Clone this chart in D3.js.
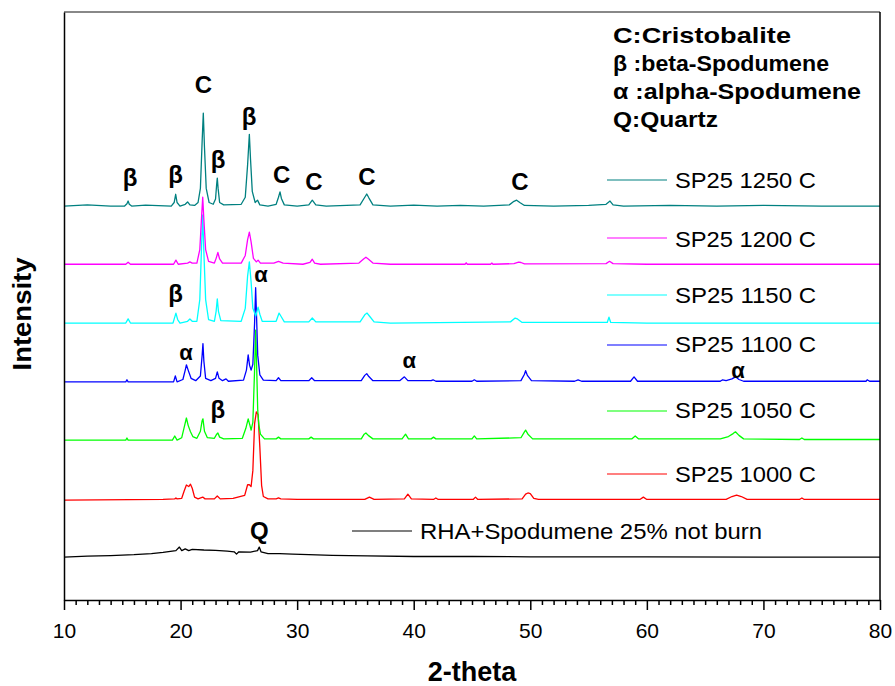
<!DOCTYPE html>
<html>
<head>
<meta charset="utf-8">
<script src="https://cdn.jsdelivr.net/npm/d3@7"></script>
<style>
  html, body { margin: 0; padding: 0; background: #fff; }
  svg { display: block; }
  text { font-family: "Liberation Sans", Arial, sans-serif; }
</style>
</head>
<body>
<svg id="chart" width="895" height="686"></svg>
<script>
// XRD patterns of RHA + 25% spodumene fired at different temperatures.
// Each pattern: [2-theta (deg), intensity (counts above its own baseline)].
const seriesNames = [
  "RHA+Spodumene 25% not burn",
  "SP25 1000 C",
  "SP25 1050 C",
  "SP25 1100 C",
  "SP25 1150 C",
  "SP25 1200 C",
  "SP25 1250 C"
];
const seriesColors = ["#000000", "#ff0000", "#00ff00", "#0000ff", "#00ffff", "#ff00ff", "#008080"];
// vertical stacking offset applied to each pattern (counts)
const stackOffset = [730, 1700, 2720, 3710, 4710, 5710, 6700];

const notBurn = [[10,0],[12,15],[14,25],[16,40],[17.5,60],[18.5,80],[19.6,110],[19.9,170],[20.1,110],[20.4,140],[20.7,110],[21,130],[22,120],[23,115],[24,100],[24.6,90],[24.8,50],[25,90],[26,85],[26.6,110],[26.75,170],[26.9,90],[27.5,60],[28.5,60],[29.6,50],[31,40],[33,30],[36,20],[40,10],[45,10],[50,5],[60,5],[70,0],[80,0]];

const sp1000 = [[10,0],[18.5,10],[19.5,20],[19.6,35],[19.7,20],[20.1,30],[20.3,150],[20.5,255],[20.7,230],[20.85,270],[21.0,200],[21.2,50],[21.5,20],[21.9,50],[22.1,20],[22.9,20],[23.15,70],[23.4,20],[24.5,30],[25.5,80],[25.75,260],[25.9,260],[26.05,230],[26.2,500],[26.35,1300],[26.5,1500],[26.65,1450],[26.8,900],[26.95,250],[27.1,60],[27.5,20],[28.2,20],[28.4,35],[28.6,20],[30,10],[35.8,10],[36.2,50],[36.6,10],[39.2,20],[39.5,100],[39.8,20],[41.7,10],[41.9,35],[42.1,10],[45.1,10],[45.3,50],[45.5,10],[49.3,20],[49.6,100],[49.8,120],[50.0,110],[50.3,30],[50.7,10],[59.4,10],[59.7,50],[60.0,10],[66.8,10],[67.3,60],[67.7,85],[68.1,60],[68.6,10],[73.1,10],[73.3,35],[73.5,10],[80,10]];

const sp1050 = [[10,0],[15.3,0],[15.4,35],[15.5,0],[19.3,0],[19.5,70],[19.7,0],[20.1,40],[20.35,250],[20.5,375],[20.65,250],[20.85,140],[21.05,60],[21.4,30],[21.7,150],[21.85,330],[21.92,360],[22.05,150],[22.3,40],[22.9,30],[23.1,100],[23.2,120],[23.35,50],[23.7,20],[25.3,30],[25.6,200],[25.8,360],[25.95,250],[26.05,170],[26.2,300],[26.35,1200],[26.44,1870],[26.52,1300],[26.62,500],[26.72,250],[26.85,100],[27.2,20],[28.2,20],[28.4,50],[28.6,20],[31.0,20],[31.2,50],[31.4,20],[35.5,20],[35.75,100],[35.9,120],[36.1,80],[36.5,20],[39.0,20],[39.3,100],[39.55,20],[41.5,20],[41.7,50],[41.9,20],[45.0,20],[45.2,70],[45.4,20],[49.2,40],[49.5,140],[49.6,170],[49.8,100],[50.2,20],[58.7,20],[59.0,70],[59.3,20],[66.3,20],[67.0,60],[67.4,110],[67.6,140],[67.9,80],[68.3,20],[73.1,10],[73.3,35],[73.5,10],[80,10]];

const sp1100 = [[10,0],[15.3,0],[15.4,35],[15.5,0],[19.4,0],[19.55,100],[19.7,0],[20.2,40],[20.4,200],[20.5,290],[20.65,200],[20.9,60],[21.3,20],[21.7,100],[21.85,450],[21.92,650],[22.0,350],[22.15,60],[22.6,20],[23.0,60],[23.15,170],[23.3,60],[23.6,20],[23.9,50],[24.1,10],[25.4,30],[25.65,200],[25.8,460],[25.92,280],[26.05,200],[26.2,300],[26.35,1000],[26.44,1600],[26.52,1100],[26.62,450],[26.8,120],[27.1,30],[28.2,20],[28.4,70],[28.6,20],[31.0,20],[31.25,70],[31.5,20],[35.5,20],[35.8,110],[35.97,140],[36.15,90],[36.5,20],[38.8,20],[39.2,85],[39.5,20],[41.5,20],[41.66,35],[41.9,10],[45.0,10],[45.2,35],[45.4,10],[49.2,20],[49.5,130],[49.6,190],[49.75,110],[50.1,20],[53.8,10],[54.1,35],[54.4,10],[58.6,10],[58.9,85],[59.2,10],[66.3,10],[66.5,35],[66.8,20],[67.3,50],[67.6,85],[67.9,40],[68.3,10],[78.8,10],[78.9,35],[79.1,10],[80,10]];

const sp1150 = [[10,0],[15.3,0],[15.5,70],[15.7,0],[19.35,0],[19.5,100],[19.6,170],[19.75,60],[19.95,0],[20.6,30],[20.8,70],[21.0,30],[21.4,30],[21.65,400],[21.8,1300],[21.9,1840],[22.0,1200],[22.15,400],[22.4,60],[22.9,30],[23.05,200],[23.15,410],[23.25,200],[23.45,40],[25.2,30],[25.55,250],[25.75,800],[25.9,1040],[26.05,700],[26.2,250],[26.45,120],[26.65,270],[26.8,150],[27.0,30],[28.2,30],[28.45,170],[28.6,120],[28.9,20],[31.0,20],[31.3,85],[31.6,20],[35.4,20],[35.8,140],[36.0,170],[36.2,120],[36.6,20],[38,0],[48.3,20],[48.7,85],[48.9,70],[49.3,10],[56.6,10],[56.75,100],[56.9,10],[60,0],[80,0]];

const sp1200 = [[10,0],[15.3,0],[15.5,35],[15.7,0],[19.4,0],[19.6,70],[19.8,0],[20.6,20],[20.8,40],[21.0,20],[21.4,20],[21.65,250],[21.8,800],[21.9,1140],[22.0,750],[22.15,250],[22.4,50],[22.9,20],[23.05,100],[23.2,200],[23.35,90],[23.6,20],[25.2,20],[25.55,150],[25.75,420],[25.9,545],[26.05,380],[26.25,100],[26.5,40],[26.65,70],[26.85,20],[28.0,20],[28.4,50],[28.8,20],[30.5,0],[31.1,30],[31.3,85],[31.5,20],[32,0],[35.3,20],[35.7,90],[35.9,120],[36.1,90],[36.5,20],[38,0],[44.4,0],[44.5,25],[44.6,0],[46.6,0],[46.7,20],[46.8,0],[48.6,10],[49.0,35],[49.2,30],[49.5,5],[56.5,10],[56.8,50],[57.1,10],[60,0],[80,0]];

const sp1250 = [[10,0],[12,20],[14,0],[15.2,0],[15.4,40],[15.5,85],[15.6,30],[15.8,0],[17,15],[19.2,0],[19.45,60],[19.58,200],[19.7,60],[19.95,0],[20.4,30],[20.6,70],[20.8,20],[21.2,10],[21.5,60],[21.7,300],[21.85,1100],[21.95,1580],[22.05,1000],[22.2,300],[22.45,60],[22.8,30],[23.0,120],[23.1,380],[23.15,475],[23.22,300],[23.35,60],[23.7,20],[25.2,30],[25.55,150],[25.75,700],[25.9,1220],[26.0,800],[26.15,250],[26.4,60],[26.6,100],[26.8,20],[27.5,0],[28.2,30],[28.4,150],[28.53,240],[28.65,130],[28.9,20],[30,0],[31.0,20],[31.3,100],[31.6,20],[32.5,0],[35.4,20],[35.8,150],[35.97,205],[36.15,140],[36.5,20],[38,0],[40,15],[42,0],[44,10],[46,0],[48.2,20],[48.6,80],[48.83,100],[49.1,60],[49.5,10],[52,0],[55,10],[56.5,30],[56.84,85],[57.1,20],[58,0],[62,10],[66,0],[70,10],[75,0],[80,0]];

const patterns = [notBurn, sp1000, sp1050, sp1100, sp1150, sp1200, sp1250];

const xTicks = [10, 20, 30, 40, 50, 60, 70, 80];

// phase markers: [symbol, 2-theta, stacked intensity level]
const phaseMarks = [
  ["C", 21.95, 8620],
  ["\u03b2", 15.66, 7040],
  ["\u03b2", 19.58, 7090],
  ["\u03b2", 23.21, 7345],
  ["\u03b2", 25.87, 8080],
  ["C", 28.68, 7090],
  ["C", 31.45, 6975],
  ["C", 35.99, 7060],
  ["C", 49.12, 6975],
  ["\u03b2", 19.58, 5070],
  ["\u03b1", 26.9, 5410],
  ["\u03b1", 20.47, 4080],
  ["\u03b2", 23.19, 3095],
  ["\u03b1", 39.62, 3945],
  ["\u03b1", 67.82, 3775],
  ["Q", 26.75, 1040]
];

const phaseKey = ["C:Cristobalite", "\u03b2 :beta-Spodumene", "\u03b1 :alpha-Spodumene", "Q:Quartz"];

// ---- layout ----
const margin = { left: 64, right: 15, top: 12, bottom: 86 };
const W = 895, H = 686;
const x = d3.scaleLinear().domain([10, 80]).range([margin.left, W - margin.right]);
const y = d3.scaleLinear().domain([0, 10000]).range([H - margin.bottom, margin.top]);

const svg = d3.select("#chart");

svg.append("defs").append("clipPath").attr("id", "plotClip")
  .append("rect")
  .attr("x", x(10)).attr("y", y(10000))
  .attr("width", x(80) - x(10)).attr("height", y(0) - y(10000));

// traces
const line = d3.line()
  .x(d => x(d[0]))
  .y(d => d[1]);

const traces = svg.append("g").attr("clip-path", "url(#plotClip)");
patterns.forEach((pts, i) => {
  traces.append("path")
    .attr("d", line(pts.map(p => [p[0], y(p[1] + stackOffset[i])])))
    .attr("fill", "none")
    .attr("stroke", seriesColors[i])
    .attr("stroke-width", 1.3)
    .attr("stroke-linejoin", "round");
});

// frame: gray top, black right
svg.append("line")
  .attr("x1", x(10)).attr("x2", x(80))
  .attr("y1", y(10000)).attr("y2", y(10000))
  .attr("stroke", "#888").attr("stroke-width", 2);
svg.append("line")
  .attr("x1", x(80)).attr("x2", x(80))
  .attr("y1", y(10000)).attr("y2", y(0))
  .attr("stroke", "#000").attr("stroke-width", 1.5);

// left axis (no ticks)
svg.append("g")
  .attr("transform", `translate(${x(10)},0)`)
  .call(d3.axisLeft(y).tickValues([]).tickSizeOuter(0))
  .call(g => g.select(".domain").attr("stroke-width", 1.5));

// bottom axis: minor ticks every 1 deg, major every 10 deg
const minorTicks = d3.range(11, 80).filter(v => v % 10 !== 0);
svg.append("g")
  .attr("transform", `translate(0,${y(0)})`)
  .call(d3.axisBottom(x).tickValues(minorTicks).tickSize(5).tickSizeOuter(0).tickFormat(""))
  .call(g => g.select(".domain").remove())
  .call(g => g.selectAll(".tick line").attr("stroke-width", 1.5));

svg.append("g")
  .attr("transform", `translate(0,${y(0)})`)
  .call(d3.axisBottom(x).tickValues(xTicks).tickSize(10).tickSizeOuter(0).tickPadding(13).tickFormat(d3.format("d")))
  .call(g => g.select(".domain").attr("stroke-width", 1.5))
  .call(g => g.selectAll(".tick line").attr("stroke-width", 1.5))
  .call(g => g.selectAll(".tick text")
    .attr("font-family", "Liberation Sans, Arial, sans-serif")
    .attr("font-size", 21)
    .attr("fill", "#000"));

// axis titles
svg.append("text")
  .attr("x", (x(10) + x(80)) / 2).attr("y", 681)
  .attr("text-anchor", "middle")
  .attr("font-weight", "bold").attr("font-size", 27)
  .text("2-theta");

svg.append("text")
  .attr("transform", "translate(31,314) rotate(-90)")
  .attr("text-anchor", "middle")
  .attr("font-weight", "bold").attr("font-size", 26)
  .attr("textLength", 113).attr("lengthAdjust", "spacingAndGlyphs")
  .text("Intensity");

// phase markers
svg.append("g").selectAll("text")
  .data(phaseMarks)
  .join("text")
  .attr("x", d => x(d[1]))
  .attr("y", d => y(d[2]))
  .attr("text-anchor", "middle")
  .attr("font-weight", "bold")
  .attr("font-size", d => d[0] === "\u03b1" ? 22 : 24)
  .text(d => d[0]);

// phase key, top right
const keyWidths = [178, 216, 248, 105];
svg.append("g").selectAll("text")
  .data(phaseKey)
  .join("text")
  .attr("x", 613)
  .attr("y", (d, i) => 43 + i * 28)
  .attr("font-weight", "bold")
  .attr("font-size", 22)
  .attr("textLength", (d, i) => keyWidths[i])
  .attr("lengthAdjust", "spacingAndGlyphs")
  .text(d => d);

// series legend
const legendRows = [
  { i: 6, lx: 607, ly: 180, ty: 188, w: 141 },
  { i: 5, lx: 607, ly: 238, ty: 247, w: 141 },
  { i: 4, lx: 607, ly: 295, ty: 303, w: 141 },
  { i: 3, lx: 607, ly: 345, ty: 352, w: 141 },
  { i: 2, lx: 607, ly: 411, ty: 418, w: 141 },
  { i: 1, lx: 607, ly: 474, ty: 482, w: 141 },
  { i: 0, lx: 352, ly: 531, ty: 539, w: 342 }
];
const legend = svg.append("g");
legendRows.forEach(r => {
  legend.append("line")
    .attr("x1", r.lx).attr("x2", r.lx + 60)
    .attr("y1", r.ly).attr("y2", r.ly)
    .attr("stroke", seriesColors[r.i]).attr("stroke-width", 1.1);
  legend.append("text")
    .attr("x", r.lx + 68).attr("y", r.ty)
    .attr("font-size", 21.5)
    .attr("textLength", r.w)
    .attr("lengthAdjust", "spacingAndGlyphs")
    .text(seriesNames[r.i]);
});
</script>
</body>
</html>
